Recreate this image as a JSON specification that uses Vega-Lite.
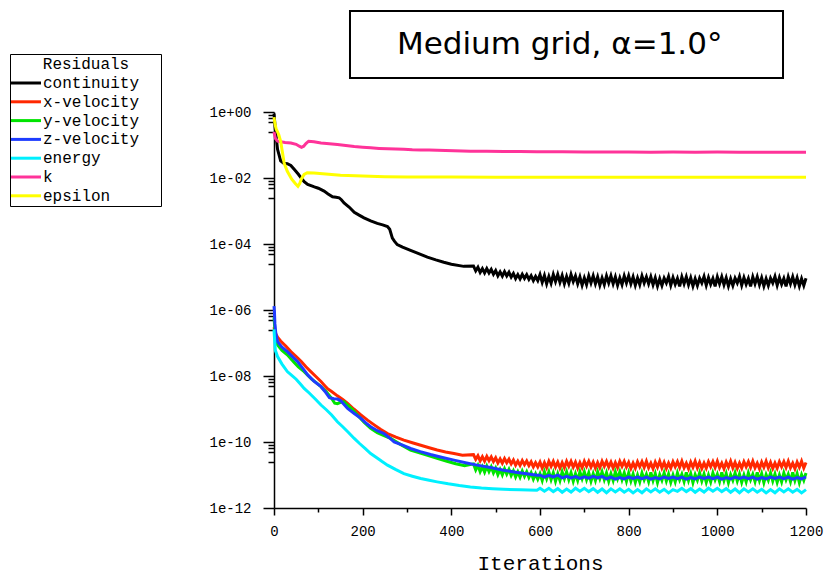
{
  "$schema": "https://vega.github.io/schema/vega-lite/v6.json",
  "width": 532,
  "height": 396,
  "autosize": {"type": "none"},
  "padding": {"left": 274, "top": 112, "right": 19, "bottom": 66},
  "background": "white",
  "config": {"view": {"stroke": null}},
  "layer": [
    {
      "data": {"values": [
        {"s":"continuity","i":0,"v":0.9},{"s":"continuity","i":3,"v":0.3},{"s":"continuity","i":8,"v":0.074},{"s":"continuity","i":15,"v":0.033},{"s":"continuity","i":22,"v":0.028},{"s":"continuity","i":30,"v":0.027},{"s":"continuity","i":38,"v":0.024},{"s":"continuity","i":46,"v":0.018},{"s":"continuity","i":55,"v":0.013},{"s":"continuity","i":61,"v":0.0101},{"s":"continuity","i":68,"v":0.0078},{"s":"continuity","i":76,"v":0.0064},{"s":"continuity","i":85,"v":0.0058},{"s":"continuity","i":91,"v":0.0054},{"s":"continuity","i":100,"v":0.0049},{"s":"continuity","i":113,"v":0.004},{"s":"continuity","i":122,"v":0.0033},{"s":"continuity","i":132,"v":0.0027},{"s":"continuity","i":140,"v":0.0026},{"s":"continuity","i":147,"v":0.0025},{"s":"continuity","i":152,"v":0.0022},{"s":"continuity","i":158,"v":0.00176},{"s":"continuity","i":170,"v":0.0013},{"s":"continuity","i":181,"v":0.00092},{"s":"continuity","i":192,"v":0.00075},{"s":"continuity","i":203,"v":0.00062},{"s":"continuity","i":218,"v":0.0005},{"s":"continuity","i":233,"v":0.00042},{"s":"continuity","i":245,"v":0.00038},{"s":"continuity","i":256,"v":0.00034},{"s":"continuity","i":261,"v":0.00028},{"s":"continuity","i":267,"v":0.00015},{"s":"continuity","i":272,"v":0.00012},{"s":"continuity","i":278,"v":0.000096},{"s":"continuity","i":290,"v":0.00008},{"s":"continuity","i":308,"v":0.000064},{"s":"continuity","i":325,"v":0.000052},{"s":"continuity","i":346,"v":0.00004},{"s":"continuity","i":365,"v":0.000033},{"s":"continuity","i":383,"v":0.000028},{"s":"continuity","i":400,"v":0.0000245},{"s":"continuity","i":428,"v":0.000021},
        {"s":"continuity","i":450,"v":2.16e-5},{"s":"continuity","i":455,"v":1.54e-5},{"s":"continuity","i":460,"v":1.97e-5},{"s":"continuity","i":465,"v":1.37e-5},{"s":"continuity","i":470,"v":1.79e-5},{"s":"continuity","i":475,"v":1.32e-5},{"s":"continuity","i":480,"v":1.8e-5},{"s":"continuity","i":485,"v":1.33e-5},{"s":"continuity","i":490,"v":1.7e-5},{"s":"continuity","i":495,"v":1.21e-5},{"s":"continuity","i":500,"v":1.57e-5},{"s":"continuity","i":505,"v":1.09e-5},{"s":"continuity","i":510,"v":1.43e-5},{"s":"continuity","i":515,"v":1.06e-5},{"s":"continuity","i":520,"v":1.46e-5},{"s":"continuity","i":525,"v":1.08e-5},{"s":"continuity","i":530,"v":1.39e-5},{"s":"continuity","i":535,"v":9.9e-6},{"s":"continuity","i":540,"v":1.28e-5},{"s":"continuity","i":545,"v":8.9e-6},{"s":"continuity","i":550,"v":1.18e-5},{"s":"continuity","i":555,"v":8.8e-6},{"s":"continuity","i":560,"v":1.21e-5},{"s":"continuity","i":565,"v":9.1e-6},{"s":"continuity","i":570,"v":1.18e-5},{"s":"continuity","i":575,"v":8.5e-6},{"s":"continuity","i":580,"v":1.1e-5},{"s":"continuity","i":585,"v":7.8e-6},{"s":"continuity","i":590,"v":1.04e-5},{"s":"continuity","i":595,"v":7.8e-6},
        {"s":"continuity","i":600,"v":1.19e-5},{"s":"continuity","i":605,"v":6.9e-6},{"s":"continuity","i":610,"v":1.11e-5},{"s":"continuity","i":615,"v":6.2e-6},{"s":"continuity","i":620,"v":1.04e-5},{"s":"continuity","i":625,"v":6.5e-6},{"s":"continuity","i":630,"v":1.19e-5},{"s":"continuity","i":635,"v":7.3e-6},
        {"s":"continuity","i":640,"v":1.19e-5},{"s":"continuity","i":645,"v":6.9e-6},{"s":"continuity","i":650,"v":1.11e-5},{"s":"continuity","i":655,"v":6.2e-6},{"s":"continuity","i":660,"v":1.04e-5},{"s":"continuity","i":665,"v":6.5e-6},{"s":"continuity","i":670,"v":1.19e-5},{"s":"continuity","i":675,"v":7.3e-6},
        {"s":"continuity","i":680,"v":1.08e-5},{"s":"continuity","i":685,"v":6.2e-6},{"s":"continuity","i":690,"v":1.01e-5},{"s":"continuity","i":695,"v":5.6e-6},{"s":"continuity","i":700,"v":9.4e-6},{"s":"continuity","i":705,"v":5.9e-6},{"s":"continuity","i":710,"v":1.08e-5},{"s":"continuity","i":715,"v":6.6e-6},
        {"s":"continuity","i":720,"v":1.08e-5},{"s":"continuity","i":725,"v":6.2e-6},{"s":"continuity","i":730,"v":1.01e-5},{"s":"continuity","i":735,"v":5.6e-6},{"s":"continuity","i":740,"v":9.4e-6},{"s":"continuity","i":745,"v":5.9e-6},{"s":"continuity","i":750,"v":1.08e-5},{"s":"continuity","i":755,"v":6.6e-6},
        {"s":"continuity","i":760,"v":1.08e-5},{"s":"continuity","i":765,"v":6.2e-6},{"s":"continuity","i":770,"v":1.01e-5},{"s":"continuity","i":775,"v":5.6e-6},{"s":"continuity","i":780,"v":9.4e-6},{"s":"continuity","i":785,"v":5.9e-6},{"s":"continuity","i":790,"v":1.08e-5},{"s":"continuity","i":795,"v":6.6e-6},
        {"s":"continuity","i":800,"v":1.08e-5},{"s":"continuity","i":805,"v":6.2e-6},{"s":"continuity","i":810,"v":1.01e-5},{"s":"continuity","i":815,"v":5.6e-6},{"s":"continuity","i":820,"v":9.4e-6},{"s":"continuity","i":825,"v":5.9e-6},{"s":"continuity","i":830,"v":1.08e-5},{"s":"continuity","i":835,"v":6.6e-6},
        {"s":"continuity","i":840,"v":1.01e-5},{"s":"continuity","i":845,"v":6.2e-6},{"s":"continuity","i":850,"v":1.01e-5},{"s":"continuity","i":855,"v":5.8e-6},{"s":"continuity","i":860,"v":9.4e-6},{"s":"continuity","i":865,"v":5.3e-6},{"s":"continuity","i":870,"v":8.8e-6},{"s":"continuity","i":875,"v":5.5e-6},
        {"s":"continuity","i":880,"v":9.2e-6},{"s":"continuity","i":885,"v":6.6e-6},{"s":"continuity","i":890,"v":1.04e-5},{"s":"continuity","i":895,"v":5.6e-6},{"s":"continuity","i":900,"v":9.6e-6},{"s":"continuity","i":905,"v":6e-6},{"s":"continuity","i":910,"v":9e-6},{"s":"continuity","i":915,"v":5.2e-6},
        {"s":"continuity","i":920,"v":1.01e-5},{"s":"continuity","i":925,"v":6.2e-6},{"s":"continuity","i":930,"v":1.01e-5},{"s":"continuity","i":935,"v":5.8e-6},{"s":"continuity","i":940,"v":9.4e-6},{"s":"continuity","i":945,"v":5.3e-6},{"s":"continuity","i":950,"v":8.8e-6},{"s":"continuity","i":955,"v":5.5e-6},
        {"s":"continuity","i":960,"v":9.2e-6},{"s":"continuity","i":965,"v":6.6e-6},{"s":"continuity","i":970,"v":1.04e-5},{"s":"continuity","i":975,"v":5.6e-6},{"s":"continuity","i":980,"v":9.6e-6},{"s":"continuity","i":985,"v":6e-6},{"s":"continuity","i":990,"v":9e-6},{"s":"continuity","i":995,"v":5.2e-6},
        {"s":"continuity","i":1000,"v":1.01e-5},{"s":"continuity","i":1005,"v":6.2e-6},{"s":"continuity","i":1010,"v":1.01e-5},{"s":"continuity","i":1015,"v":5.8e-6},{"s":"continuity","i":1020,"v":9.4e-6},{"s":"continuity","i":1025,"v":5.3e-6},{"s":"continuity","i":1030,"v":8.8e-6},{"s":"continuity","i":1035,"v":5.5e-6},
        {"s":"continuity","i":1040,"v":9.2e-6},{"s":"continuity","i":1045,"v":6.6e-6},{"s":"continuity","i":1050,"v":1.04e-5},{"s":"continuity","i":1055,"v":5.6e-6},{"s":"continuity","i":1060,"v":9.6e-6},{"s":"continuity","i":1065,"v":6e-6},{"s":"continuity","i":1070,"v":9e-6},{"s":"continuity","i":1075,"v":5.2e-6},
        {"s":"continuity","i":1080,"v":1.01e-5},{"s":"continuity","i":1085,"v":6.2e-6},{"s":"continuity","i":1090,"v":1.01e-5},{"s":"continuity","i":1095,"v":5.8e-6},{"s":"continuity","i":1100,"v":9.4e-6},{"s":"continuity","i":1105,"v":5.3e-6},{"s":"continuity","i":1110,"v":8.8e-6},{"s":"continuity","i":1115,"v":5.5e-6},
        {"s":"continuity","i":1120,"v":9.2e-6},{"s":"continuity","i":1125,"v":6.6e-6},{"s":"continuity","i":1130,"v":1.04e-5},{"s":"continuity","i":1135,"v":5.6e-6},{"s":"continuity","i":1140,"v":9.6e-6},{"s":"continuity","i":1145,"v":6e-6},{"s":"continuity","i":1150,"v":9e-6},{"s":"continuity","i":1155,"v":5.2e-6},
        {"s":"continuity","i":1160,"v":1.01e-5},{"s":"continuity","i":1165,"v":6.2e-6},{"s":"continuity","i":1170,"v":1.01e-5},{"s":"continuity","i":1175,"v":5.8e-6},{"s":"continuity","i":1180,"v":9.4e-6},{"s":"continuity","i":1185,"v":5.3e-6},{"s":"continuity","i":1190,"v":8.8e-6},{"s":"continuity","i":1195,"v":5.5e-6},{"s":"continuity","i":1200,"v":9.2e-6},

        {"s":"x-velocity","i":0,"v":3e-7},{"s":"x-velocity","i":3,"v":2e-7},{"s":"x-velocity","i":8,"v":1.5e-7},{"s":"x-velocity","i":15,"v":1.15e-7},{"s":"x-velocity","i":27,"v":8e-8},{"s":"x-velocity","i":38,"v":5.5e-8},{"s":"x-velocity","i":50,"v":3.9e-8},{"s":"x-velocity","i":61,"v":2.8e-8},{"s":"x-velocity","i":72,"v":1.9e-8},{"s":"x-velocity","i":83,"v":1.36e-8},{"s":"x-velocity","i":95,"v":9.5e-9},{"s":"x-velocity","i":106,"v":6.8e-9},{"s":"x-velocity","i":115,"v":5e-9},{"s":"x-velocity","i":121,"v":4.1e-9},{"s":"x-velocity","i":130,"v":3.4e-9},{"s":"x-velocity","i":143,"v":2.5e-9},{"s":"x-velocity","i":155,"v":1.95e-9},{"s":"x-velocity","i":166,"v":1.48e-9},{"s":"x-velocity","i":180,"v":1e-9},{"s":"x-velocity","i":196,"v":6.6e-10},{"s":"x-velocity","i":211,"v":4.6e-10},{"s":"x-velocity","i":226,"v":3.3e-10},{"s":"x-velocity","i":241,"v":2.4e-10},{"s":"x-velocity","i":256,"v":1.8e-10},{"s":"x-velocity","i":275,"v":1.4e-10},{"s":"x-velocity","i":293,"v":1.14e-10},{"s":"x-velocity","i":312,"v":9.5e-11},{"s":"x-velocity","i":331,"v":8e-11},{"s":"x-velocity","i":350,"v":6.7e-11},{"s":"x-velocity","i":368,"v":5.7e-11},{"s":"x-velocity","i":387,"v":5e-11},{"s":"x-velocity","i":406,"v":4.5e-11},{"s":"x-velocity","i":425,"v":4e-11},
        {"s":"x-velocity","i":450,"v":4.14e-11},{"s":"x-velocity","i":455,"v":2.97e-11},{"s":"x-velocity","i":460,"v":3.83e-11},{"s":"x-velocity","i":465,"v":2.69e-11},{"s":"x-velocity","i":470,"v":3.56e-11},{"s":"x-velocity","i":475,"v":2.64e-11},{"s":"x-velocity","i":480,"v":3.66e-11},{"s":"x-velocity","i":485,"v":2.73e-11},{"s":"x-velocity","i":490,"v":3.54e-11},{"s":"x-velocity","i":495,"v":2.55e-11},{"s":"x-velocity","i":500,"v":3.31e-11},{"s":"x-velocity","i":505,"v":2.32e-11},{"s":"x-velocity","i":510,"v":3.06e-11},{"s":"x-velocity","i":515,"v":2.27e-11},{"s":"x-velocity","i":520,"v":3.14e-11},{"s":"x-velocity","i":525,"v":2.34e-11},{"s":"x-velocity","i":530,"v":3.02e-11},{"s":"x-velocity","i":535,"v":2.17e-11},{"s":"x-velocity","i":540,"v":2.82e-11},{"s":"x-velocity","i":545,"v":1.98e-11},{"s":"x-velocity","i":550,"v":2.63e-11},{"s":"x-velocity","i":555,"v":1.96e-11},{"s":"x-velocity","i":560,"v":2.74e-11},{"s":"x-velocity","i":565,"v":2.05e-11},{"s":"x-velocity","i":570,"v":2.66e-11},{"s":"x-velocity","i":575,"v":1.93e-11},{"s":"x-velocity","i":580,"v":2.51e-11},{"s":"x-velocity","i":585,"v":1.77e-11},{"s":"x-velocity","i":590,"v":2.35e-11},{"s":"x-velocity","i":595,"v":1.77e-11},
        {"s":"x-velocity","i":600,"v":2.46e-11},{"s":"x-velocity","i":605,"v":1.62e-11},{"s":"x-velocity","i":610,"v":2.36e-11},{"s":"x-velocity","i":615,"v":1.66e-11},{"s":"x-velocity","i":620,"v":2.58e-11},{"s":"x-velocity","i":625,"v":1.82e-11},{"s":"x-velocity","i":630,"v":2.58e-11},{"s":"x-velocity","i":635,"v":1.74e-11},
        {"s":"x-velocity","i":640,"v":2.46e-11},{"s":"x-velocity","i":645,"v":1.62e-11},{"s":"x-velocity","i":650,"v":2.36e-11},{"s":"x-velocity","i":655,"v":1.66e-11},{"s":"x-velocity","i":660,"v":2.58e-11},{"s":"x-velocity","i":665,"v":1.82e-11},{"s":"x-velocity","i":670,"v":2.58e-11},{"s":"x-velocity","i":675,"v":1.74e-11},
        {"s":"x-velocity","i":680,"v":2.46e-11},{"s":"x-velocity","i":685,"v":1.62e-11},{"s":"x-velocity","i":690,"v":2.36e-11},{"s":"x-velocity","i":695,"v":1.66e-11},{"s":"x-velocity","i":700,"v":2.58e-11},{"s":"x-velocity","i":705,"v":1.82e-11},{"s":"x-velocity","i":710,"v":2.58e-11},{"s":"x-velocity","i":715,"v":1.74e-11},
        {"s":"x-velocity","i":720,"v":2.46e-11},{"s":"x-velocity","i":725,"v":1.62e-11},{"s":"x-velocity","i":730,"v":2.36e-11},{"s":"x-velocity","i":735,"v":1.66e-11},{"s":"x-velocity","i":740,"v":2.58e-11},{"s":"x-velocity","i":745,"v":1.82e-11},{"s":"x-velocity","i":750,"v":2.58e-11},{"s":"x-velocity","i":755,"v":1.74e-11},
        {"s":"x-velocity","i":760,"v":2.46e-11},{"s":"x-velocity","i":765,"v":1.62e-11},{"s":"x-velocity","i":770,"v":2.36e-11},{"s":"x-velocity","i":775,"v":1.66e-11},{"s":"x-velocity","i":780,"v":2.58e-11},{"s":"x-velocity","i":785,"v":1.82e-11},{"s":"x-velocity","i":790,"v":2.58e-11},{"s":"x-velocity","i":795,"v":1.74e-11},
        {"s":"x-velocity","i":800,"v":2.4e-11},{"s":"x-velocity","i":805,"v":1.58e-11},{"s":"x-velocity","i":810,"v":2.3e-11},{"s":"x-velocity","i":815,"v":1.62e-11},{"s":"x-velocity","i":820,"v":2.52e-11},{"s":"x-velocity","i":825,"v":1.78e-11},{"s":"x-velocity","i":830,"v":2.52e-11},{"s":"x-velocity","i":835,"v":1.7e-11},
        {"s":"x-velocity","i":840,"v":2.6e-11},{"s":"x-velocity","i":845,"v":1.66e-11},{"s":"x-velocity","i":850,"v":2.28e-11},{"s":"x-velocity","i":855,"v":1.56e-11},{"s":"x-velocity","i":860,"v":2.45e-11},{"s":"x-velocity","i":865,"v":1.72e-11},{"s":"x-velocity","i":870,"v":2.62e-11},{"s":"x-velocity","i":875,"v":1.64e-11},
        {"s":"x-velocity","i":880,"v":2.4e-11},{"s":"x-velocity","i":885,"v":1.58e-11},{"s":"x-velocity","i":890,"v":2.3e-11},{"s":"x-velocity","i":895,"v":1.62e-11},{"s":"x-velocity","i":900,"v":2.52e-11},{"s":"x-velocity","i":905,"v":1.78e-11},{"s":"x-velocity","i":910,"v":2.52e-11},{"s":"x-velocity","i":915,"v":1.7e-11},
        {"s":"x-velocity","i":920,"v":2.6e-11},{"s":"x-velocity","i":925,"v":1.66e-11},{"s":"x-velocity","i":930,"v":2.28e-11},{"s":"x-velocity","i":935,"v":1.56e-11},{"s":"x-velocity","i":940,"v":2.45e-11},{"s":"x-velocity","i":945,"v":1.72e-11},{"s":"x-velocity","i":950,"v":2.62e-11},{"s":"x-velocity","i":955,"v":1.64e-11},
        {"s":"x-velocity","i":960,"v":2.4e-11},{"s":"x-velocity","i":965,"v":1.58e-11},{"s":"x-velocity","i":970,"v":2.3e-11},{"s":"x-velocity","i":975,"v":1.62e-11},{"s":"x-velocity","i":980,"v":2.52e-11},{"s":"x-velocity","i":985,"v":1.78e-11},{"s":"x-velocity","i":990,"v":2.52e-11},{"s":"x-velocity","i":995,"v":1.7e-11},
        {"s":"x-velocity","i":1000,"v":2.6e-11},{"s":"x-velocity","i":1005,"v":1.66e-11},{"s":"x-velocity","i":1010,"v":2.28e-11},{"s":"x-velocity","i":1015,"v":1.56e-11},{"s":"x-velocity","i":1020,"v":2.45e-11},{"s":"x-velocity","i":1025,"v":1.72e-11},{"s":"x-velocity","i":1030,"v":2.62e-11},{"s":"x-velocity","i":1035,"v":1.64e-11},
        {"s":"x-velocity","i":1040,"v":2.4e-11},{"s":"x-velocity","i":1045,"v":1.58e-11},{"s":"x-velocity","i":1050,"v":2.3e-11},{"s":"x-velocity","i":1055,"v":1.62e-11},{"s":"x-velocity","i":1060,"v":2.52e-11},{"s":"x-velocity","i":1065,"v":1.78e-11},{"s":"x-velocity","i":1070,"v":2.52e-11},{"s":"x-velocity","i":1075,"v":1.7e-11},
        {"s":"x-velocity","i":1080,"v":2.6e-11},{"s":"x-velocity","i":1085,"v":1.66e-11},{"s":"x-velocity","i":1090,"v":2.28e-11},{"s":"x-velocity","i":1095,"v":1.56e-11},{"s":"x-velocity","i":1100,"v":2.45e-11},{"s":"x-velocity","i":1105,"v":1.72e-11},{"s":"x-velocity","i":1110,"v":2.62e-11},{"s":"x-velocity","i":1115,"v":1.64e-11},
        {"s":"x-velocity","i":1120,"v":2.4e-11},{"s":"x-velocity","i":1125,"v":1.58e-11},{"s":"x-velocity","i":1130,"v":2.3e-11},{"s":"x-velocity","i":1135,"v":1.62e-11},{"s":"x-velocity","i":1140,"v":2.52e-11},{"s":"x-velocity","i":1145,"v":1.78e-11},{"s":"x-velocity","i":1150,"v":2.52e-11},{"s":"x-velocity","i":1155,"v":1.7e-11},
        {"s":"x-velocity","i":1160,"v":2.6e-11},{"s":"x-velocity","i":1165,"v":1.66e-11},{"s":"x-velocity","i":1170,"v":2.28e-11},{"s":"x-velocity","i":1175,"v":1.56e-11},{"s":"x-velocity","i":1180,"v":2.45e-11},{"s":"x-velocity","i":1185,"v":1.72e-11},{"s":"x-velocity","i":1190,"v":2.62e-11},{"s":"x-velocity","i":1195,"v":1.64e-11},{"s":"x-velocity","i":1200,"v":2.4e-11},

        {"s":"y-velocity","i":0,"v":6e-7},{"s":"y-velocity","i":2,"v":2.5e-7},{"s":"y-velocity","i":4,"v":1.5e-7},{"s":"y-velocity","i":8,"v":8.8e-8},{"s":"y-velocity","i":18,"v":6e-8},{"s":"y-velocity","i":30,"v":4.4e-8},{"s":"y-velocity","i":45,"v":2.6e-8},{"s":"y-velocity","i":55,"v":1.9e-8},{"s":"y-velocity","i":68,"v":1.36e-8},{"s":"y-velocity","i":85,"v":8e-9},{"s":"y-velocity","i":95,"v":6.3e-9},{"s":"y-velocity","i":106,"v":4.75e-9},{"s":"y-velocity","i":118,"v":3.3e-9},{"s":"y-velocity","i":130,"v":2.1e-9},{"s":"y-velocity","i":137,"v":1.5e-9},{"s":"y-velocity","i":143,"v":1.45e-9},{"s":"y-velocity","i":150,"v":1.6e-9},{"s":"y-velocity","i":158,"v":1.66e-9},{"s":"y-velocity","i":166,"v":1.3e-9},{"s":"y-velocity","i":176,"v":1e-9},{"s":"y-velocity","i":188,"v":6.6e-10},{"s":"y-velocity","i":203,"v":4e-10},{"s":"y-velocity","i":218,"v":2.6e-10},{"s":"y-velocity","i":233,"v":1.9e-10},{"s":"y-velocity","i":248,"v":1.55e-10},{"s":"y-velocity","i":263,"v":1.28e-10},{"s":"y-velocity","i":285,"v":8.5e-11},{"s":"y-velocity","i":308,"v":5.7e-11},{"s":"y-velocity","i":330,"v":4.6e-11},{"s":"y-velocity","i":350,"v":3.8e-11},{"s":"y-velocity","i":368,"v":3.2e-11},{"s":"y-velocity","i":390,"v":2.6e-11},{"s":"y-velocity","i":410,"v":2.2e-11},{"s":"y-velocity","i":430,"v":1.9e-11},
        {"s":"y-velocity","i":450,"v":2.17e-11},{"s":"y-velocity","i":455,"v":1.42e-11},{"s":"y-velocity","i":460,"v":1.96e-11},{"s":"y-velocity","i":465,"v":1.26e-11},{"s":"y-velocity","i":470,"v":1.78e-11},{"s":"y-velocity","i":475,"v":1.22e-11},{"s":"y-velocity","i":480,"v":1.85e-11},{"s":"y-velocity","i":485,"v":1.27e-11},{"s":"y-velocity","i":490,"v":1.76e-11},{"s":"y-velocity","i":495,"v":1.16e-11},{"s":"y-velocity","i":500,"v":1.61e-11},{"s":"y-velocity","i":505,"v":1.03e-11},{"s":"y-velocity","i":510,"v":1.47e-11},{"s":"y-velocity","i":515,"v":1.01e-11},{"s":"y-velocity","i":520,"v":1.54e-11},{"s":"y-velocity","i":525,"v":1.06e-11},{"s":"y-velocity","i":530,"v":1.47e-11},{"s":"y-velocity","i":535,"v":9.7e-12},{"s":"y-velocity","i":540,"v":1.34e-11},{"s":"y-velocity","i":545,"v":8.7e-12},{"s":"y-velocity","i":550,"v":1.24e-11},{"s":"y-velocity","i":555,"v":8.6e-12},{"s":"y-velocity","i":560,"v":1.31e-11},{"s":"y-velocity","i":565,"v":9.1e-12},{"s":"y-velocity","i":570,"v":1.26e-11},{"s":"y-velocity","i":575,"v":8.4e-12},{"s":"y-velocity","i":580,"v":1.16e-11},{"s":"y-velocity","i":585,"v":7.5e-12},{"s":"y-velocity","i":590,"v":1.08e-11},{"s":"y-velocity","i":595,"v":7.5e-12},
        {"s":"y-velocity","i":600,"v":1.09e-11},{"s":"y-velocity","i":605,"v":6.8e-12},{"s":"y-velocity","i":610,"v":1.24e-11},{"s":"y-velocity","i":615,"v":7.7e-12},{"s":"y-velocity","i":620,"v":1.24e-11},{"s":"y-velocity","i":625,"v":7.2e-12},{"s":"y-velocity","i":630,"v":1.16e-11},{"s":"y-velocity","i":635,"v":6.5e-12},
        {"s":"y-velocity","i":640,"v":1.09e-11},{"s":"y-velocity","i":645,"v":6.8e-12},{"s":"y-velocity","i":650,"v":1.24e-11},{"s":"y-velocity","i":655,"v":7.7e-12},{"s":"y-velocity","i":660,"v":1.24e-11},{"s":"y-velocity","i":665,"v":7.2e-12},{"s":"y-velocity","i":670,"v":1.16e-11},{"s":"y-velocity","i":675,"v":6.5e-12},
        {"s":"y-velocity","i":680,"v":1.09e-11},{"s":"y-velocity","i":685,"v":6.8e-12},{"s":"y-velocity","i":690,"v":1.24e-11},{"s":"y-velocity","i":695,"v":7.7e-12},{"s":"y-velocity","i":700,"v":1.24e-11},{"s":"y-velocity","i":705,"v":7.2e-12},{"s":"y-velocity","i":710,"v":1.16e-11},{"s":"y-velocity","i":715,"v":6.5e-12},
        {"s":"y-velocity","i":720,"v":1.09e-11},{"s":"y-velocity","i":725,"v":6.8e-12},{"s":"y-velocity","i":730,"v":1.24e-11},{"s":"y-velocity","i":735,"v":7.7e-12},{"s":"y-velocity","i":740,"v":1.24e-11},{"s":"y-velocity","i":745,"v":7.2e-12},{"s":"y-velocity","i":750,"v":1.16e-11},{"s":"y-velocity","i":755,"v":6.5e-12},
        {"s":"y-velocity","i":760,"v":1.09e-11},{"s":"y-velocity","i":765,"v":6.8e-12},{"s":"y-velocity","i":770,"v":1.24e-11},{"s":"y-velocity","i":775,"v":7.7e-12},{"s":"y-velocity","i":780,"v":1.24e-11},{"s":"y-velocity","i":785,"v":7.2e-12},{"s":"y-velocity","i":790,"v":1.16e-11},{"s":"y-velocity","i":795,"v":6.5e-12},
        {"s":"y-velocity","i":800,"v":1.15e-11},{"s":"y-velocity","i":805,"v":6.6e-12},{"s":"y-velocity","i":810,"v":1.07e-11},{"s":"y-velocity","i":815,"v":6e-12},{"s":"y-velocity","i":820,"v":1e-11},{"s":"y-velocity","i":825,"v":6.2e-12},{"s":"y-velocity","i":830,"v":1.15e-11},{"s":"y-velocity","i":835,"v":7.1e-12},
        {"s":"y-velocity","i":840,"v":1.05e-11},{"s":"y-velocity","i":845,"v":6.3e-12},{"s":"y-velocity","i":850,"v":1.2e-11},{"s":"y-velocity","i":855,"v":6.8e-12},{"s":"y-velocity","i":860,"v":1.1e-11},{"s":"y-velocity","i":865,"v":5.9e-12},{"s":"y-velocity","i":870,"v":1.02e-11},{"s":"y-velocity","i":875,"v":6.9e-12},
        {"s":"y-velocity","i":880,"v":1.15e-11},{"s":"y-velocity","i":885,"v":6.6e-12},{"s":"y-velocity","i":890,"v":1.07e-11},{"s":"y-velocity","i":895,"v":6e-12},{"s":"y-velocity","i":900,"v":1e-11},{"s":"y-velocity","i":905,"v":6.2e-12},{"s":"y-velocity","i":910,"v":1.15e-11},{"s":"y-velocity","i":915,"v":7.1e-12},
        {"s":"y-velocity","i":920,"v":1.05e-11},{"s":"y-velocity","i":925,"v":6.3e-12},{"s":"y-velocity","i":930,"v":1.2e-11},{"s":"y-velocity","i":935,"v":6.8e-12},{"s":"y-velocity","i":940,"v":1.1e-11},{"s":"y-velocity","i":945,"v":5.9e-12},{"s":"y-velocity","i":950,"v":1.02e-11},{"s":"y-velocity","i":955,"v":6.9e-12},
        {"s":"y-velocity","i":960,"v":1.15e-11},{"s":"y-velocity","i":965,"v":6.6e-12},{"s":"y-velocity","i":970,"v":1.07e-11},{"s":"y-velocity","i":975,"v":6e-12},{"s":"y-velocity","i":980,"v":1e-11},{"s":"y-velocity","i":985,"v":6.2e-12},{"s":"y-velocity","i":990,"v":1.15e-11},{"s":"y-velocity","i":995,"v":7.1e-12},
        {"s":"y-velocity","i":1000,"v":1.05e-11},{"s":"y-velocity","i":1005,"v":6.3e-12},{"s":"y-velocity","i":1010,"v":1.2e-11},{"s":"y-velocity","i":1015,"v":6.8e-12},{"s":"y-velocity","i":1020,"v":1.1e-11},{"s":"y-velocity","i":1025,"v":5.9e-12},{"s":"y-velocity","i":1030,"v":1.02e-11},{"s":"y-velocity","i":1035,"v":6.9e-12},
        {"s":"y-velocity","i":1040,"v":1.15e-11},{"s":"y-velocity","i":1045,"v":6.6e-12},{"s":"y-velocity","i":1050,"v":1.07e-11},{"s":"y-velocity","i":1055,"v":6e-12},{"s":"y-velocity","i":1060,"v":1e-11},{"s":"y-velocity","i":1065,"v":6.2e-12},{"s":"y-velocity","i":1070,"v":1.15e-11},{"s":"y-velocity","i":1075,"v":7.1e-12},
        {"s":"y-velocity","i":1080,"v":1.05e-11},{"s":"y-velocity","i":1085,"v":6.3e-12},{"s":"y-velocity","i":1090,"v":1.2e-11},{"s":"y-velocity","i":1095,"v":6.8e-12},{"s":"y-velocity","i":1100,"v":1.1e-11},{"s":"y-velocity","i":1105,"v":5.9e-12},{"s":"y-velocity","i":1110,"v":1.02e-11},{"s":"y-velocity","i":1115,"v":6.9e-12},
        {"s":"y-velocity","i":1120,"v":1.15e-11},{"s":"y-velocity","i":1125,"v":6.6e-12},{"s":"y-velocity","i":1130,"v":1.07e-11},{"s":"y-velocity","i":1135,"v":6e-12},{"s":"y-velocity","i":1140,"v":1e-11},{"s":"y-velocity","i":1145,"v":6.2e-12},{"s":"y-velocity","i":1150,"v":1.15e-11},{"s":"y-velocity","i":1155,"v":7.1e-12},
        {"s":"y-velocity","i":1160,"v":1.05e-11},{"s":"y-velocity","i":1165,"v":6.3e-12},{"s":"y-velocity","i":1170,"v":1.2e-11},{"s":"y-velocity","i":1175,"v":6.8e-12},{"s":"y-velocity","i":1180,"v":1.1e-11},{"s":"y-velocity","i":1185,"v":5.9e-12},{"s":"y-velocity","i":1190,"v":1.02e-11},{"s":"y-velocity","i":1195,"v":6.9e-12},{"s":"y-velocity","i":1200,"v":1.15e-11},

        {"s":"z-velocity","i":0,"v":1.3e-6},{"s":"z-velocity","i":1,"v":9e-7},{"s":"z-velocity","i":2,"v":4e-7},{"s":"z-velocity","i":4,"v":2e-7},{"s":"z-velocity","i":8,"v":1.1e-7},{"s":"z-velocity","i":18,"v":7.5e-8},{"s":"z-velocity","i":30,"v":5.5e-8},{"s":"z-velocity","i":42,"v":3.8e-8},{"s":"z-velocity","i":53,"v":2.73e-8},{"s":"z-velocity","i":65,"v":1.7e-8},{"s":"z-velocity","i":76,"v":1.08e-8},{"s":"z-velocity","i":90,"v":7e-9},{"s":"z-velocity","i":106,"v":4.75e-9},{"s":"z-velocity","i":115,"v":3.4e-9},{"s":"z-velocity","i":125,"v":2.2e-9},{"s":"z-velocity","i":135,"v":2.05e-9},{"s":"z-velocity","i":143,"v":2e-9},{"s":"z-velocity","i":150,"v":1.8e-9},{"s":"z-velocity","i":166,"v":1.04e-9},{"s":"z-velocity","i":181,"v":7.3e-10},{"s":"z-velocity","i":196,"v":5.2e-10},{"s":"z-velocity","i":207,"v":3.8e-10},{"s":"z-velocity","i":218,"v":2.9e-10},{"s":"z-velocity","i":233,"v":2.2e-10},{"s":"z-velocity","i":248,"v":1.81e-10},{"s":"z-velocity","i":260,"v":1.35e-10},{"s":"z-velocity","i":271,"v":1.01e-10},{"s":"z-velocity","i":290,"v":8e-11},{"s":"z-velocity","i":308,"v":6.35e-11},{"s":"z-velocity","i":330,"v":5.1e-11},{"s":"z-velocity","i":353,"v":4.17e-11},{"s":"z-velocity","i":380,"v":3.4e-11},{"s":"z-velocity","i":406,"v":2.82e-11},{"s":"z-velocity","i":432,"v":2.35e-11},{"s":"z-velocity","i":458,"v":1.99e-11},{"s":"z-velocity","i":488,"v":1.68e-11},{"s":"z-velocity","i":518,"v":1.4e-11},{"s":"z-velocity","i":545,"v":1.22e-11},{"s":"z-velocity","i":570,"v":1.09e-11},{"s":"z-velocity","i":593,"v":9.9e-12},
        {"s":"z-velocity","i":600,"v":9.9e-12},{"s":"z-velocity","i":610,"v":8.6e-12},{"s":"z-velocity","i":620,"v":9.7e-12},{"s":"z-velocity","i":630,"v":8.7e-12},{"s":"z-velocity","i":640,"v":9.95e-12},{"s":"z-velocity","i":650,"v":8.2e-12},{"s":"z-velocity","i":660,"v":9.1e-12},{"s":"z-velocity","i":670,"v":8.1e-12},{"s":"z-velocity","i":680,"v":9e-12},{"s":"z-velocity","i":690,"v":7.9e-12},{"s":"z-velocity","i":700,"v":8.8e-12},{"s":"z-velocity","i":710,"v":8e-12},{"s":"z-velocity","i":720,"v":9.1e-12},{"s":"z-velocity","i":730,"v":8.2e-12},{"s":"z-velocity","i":740,"v":9.1e-12},{"s":"z-velocity","i":750,"v":7.7e-12},{"s":"z-velocity","i":760,"v":8.6e-12},{"s":"z-velocity","i":770,"v":7.5e-12},{"s":"z-velocity","i":780,"v":8.4e-12},{"s":"z-velocity","i":790,"v":7.6e-12},{"s":"z-velocity","i":800,"v":8.7e-12},{"s":"z-velocity","i":810,"v":7.9e-12},{"s":"z-velocity","i":820,"v":8.7e-12},{"s":"z-velocity","i":830,"v":7.7e-12},{"s":"z-velocity","i":840,"v":8.6e-12},{"s":"z-velocity","i":850,"v":7.5e-12},{"s":"z-velocity","i":860,"v":8.4e-12},{"s":"z-velocity","i":870,"v":7.6e-12},{"s":"z-velocity","i":880,"v":8.7e-12},{"s":"z-velocity","i":890,"v":7.9e-12},{"s":"z-velocity","i":900,"v":8.7e-12},
        {"s":"z-velocity","i":910,"v":7.7e-12},{"s":"z-velocity","i":920,"v":8.6e-12},{"s":"z-velocity","i":930,"v":7.5e-12},{"s":"z-velocity","i":940,"v":8.4e-12},{"s":"z-velocity","i":950,"v":7.6e-12},{"s":"z-velocity","i":960,"v":8.7e-12},{"s":"z-velocity","i":970,"v":7.9e-12},{"s":"z-velocity","i":980,"v":8.7e-12},{"s":"z-velocity","i":990,"v":7.7e-12},{"s":"z-velocity","i":1000,"v":8.6e-12},{"s":"z-velocity","i":1010,"v":7.5e-12},{"s":"z-velocity","i":1020,"v":8.4e-12},{"s":"z-velocity","i":1030,"v":7.6e-12},{"s":"z-velocity","i":1040,"v":8.7e-12},{"s":"z-velocity","i":1050,"v":7.9e-12},{"s":"z-velocity","i":1060,"v":8.7e-12},{"s":"z-velocity","i":1070,"v":7.7e-12},{"s":"z-velocity","i":1080,"v":8.6e-12},{"s":"z-velocity","i":1090,"v":7.5e-12},{"s":"z-velocity","i":1100,"v":8.4e-12},{"s":"z-velocity","i":1110,"v":7.6e-12},{"s":"z-velocity","i":1120,"v":8.7e-12},{"s":"z-velocity","i":1130,"v":7.9e-12},{"s":"z-velocity","i":1140,"v":8.7e-12},{"s":"z-velocity","i":1150,"v":7.7e-12},{"s":"z-velocity","i":1160,"v":8.6e-12},{"s":"z-velocity","i":1170,"v":7.5e-12},{"s":"z-velocity","i":1180,"v":8.4e-12},{"s":"z-velocity","i":1190,"v":7.6e-12},{"s":"z-velocity","i":1200,"v":8.7e-12},

        {"s":"energy","i":0,"v":2.6e-7},{"s":"energy","i":1,"v":1.5e-7},{"s":"energy","i":3,"v":6e-8},{"s":"energy","i":8,"v":3.9e-8},{"s":"energy","i":18,"v":2.3e-8},{"s":"energy","i":30,"v":1.36e-8},{"s":"energy","i":40,"v":1.05e-8},{"s":"energy","i":50,"v":8e-9},{"s":"energy","i":60,"v":5.6e-9},{"s":"energy","i":68,"v":4.2e-9},{"s":"energy","i":80,"v":3e-9},{"s":"energy","i":93,"v":2e-9},{"s":"energy","i":106,"v":1.32e-9},{"s":"energy","i":118,"v":9.5e-10},{"s":"energy","i":130,"v":6.6e-10},{"s":"energy","i":143,"v":4.1e-10},{"s":"energy","i":155,"v":2.9e-10},{"s":"energy","i":168,"v":1.95e-10},{"s":"energy","i":181,"v":1.28e-10},{"s":"energy","i":193,"v":9e-11},{"s":"energy","i":206,"v":6.3e-11},{"s":"energy","i":218,"v":4.48e-11},{"s":"energy","i":231,"v":3.4e-11},{"s":"energy","i":243,"v":2.6e-11},{"s":"energy","i":256,"v":1.99e-11},{"s":"energy","i":275,"v":1.45e-11},{"s":"energy","i":293,"v":1.1e-11},{"s":"energy","i":312,"v":9.2e-12},{"s":"energy","i":331,"v":7.8e-12},{"s":"energy","i":350,"v":6.9e-12},{"s":"energy","i":368,"v":6.2e-12},{"s":"energy","i":393,"v":5.4e-12},{"s":"energy","i":418,"v":4.8e-12},{"s":"energy","i":443,"v":4.35e-12},{"s":"energy","i":468,"v":4.05e-12},{"s":"energy","i":493,"v":3.85e-12},{"s":"energy","i":518,"v":3.7e-12},{"s":"energy","i":555,"v":3.55e-12},{"s":"energy","i":593,"v":3.46e-12},
        {"s":"energy","i":600,"v":3.97e-12},{"s":"energy","i":610,"v":3.21e-12},{"s":"energy","i":620,"v":3.97e-12},{"s":"energy","i":630,"v":3.14e-12},{"s":"energy","i":640,"v":3.86e-12},{"s":"energy","i":650,"v":3e-12},{"s":"energy","i":660,"v":3.76e-12},{"s":"energy","i":670,"v":3.04e-12},{"s":"energy","i":680,"v":3.97e-12},{"s":"energy","i":690,"v":3.21e-12},{"s":"energy","i":700,"v":3.97e-12},{"s":"energy","i":710,"v":3.14e-12},{"s":"energy","i":720,"v":3.86e-12},{"s":"energy","i":730,"v":3e-12},{"s":"energy","i":740,"v":3.76e-12},{"s":"energy","i":750,"v":2.9e-12},{"s":"energy","i":760,"v":3.8e-12},{"s":"energy","i":770,"v":3.07e-12},{"s":"energy","i":780,"v":3.8e-12},{"s":"energy","i":790,"v":3e-12},{"s":"energy","i":800,"v":3.7e-12},{"s":"energy","i":810,"v":2.87e-12},{"s":"energy","i":820,"v":3.6e-12},{"s":"energy","i":830,"v":2.9e-12},{"s":"energy","i":840,"v":3.8e-12},{"s":"energy","i":850,"v":3.07e-12},{"s":"energy","i":860,"v":3.8e-12},{"s":"energy","i":870,"v":3e-12},{"s":"energy","i":880,"v":3.7e-12},{"s":"energy","i":890,"v":2.87e-12},{"s":"energy","i":900,"v":3.6e-12},
        {"s":"energy","i":910,"v":3.21e-12},{"s":"energy","i":920,"v":3.97e-12},{"s":"energy","i":930,"v":3.14e-12},{"s":"energy","i":940,"v":3.86e-12},{"s":"energy","i":950,"v":3e-12},{"s":"energy","i":960,"v":3.76e-12},{"s":"energy","i":970,"v":3.04e-12},{"s":"energy","i":980,"v":3.97e-12},{"s":"energy","i":990,"v":3.21e-12},{"s":"energy","i":1000,"v":3.97e-12},{"s":"energy","i":1010,"v":3.14e-12},{"s":"energy","i":1020,"v":3.86e-12},{"s":"energy","i":1030,"v":3e-12},{"s":"energy","i":1040,"v":3.76e-12},{"s":"energy","i":1050,"v":2.9e-12},{"s":"energy","i":1060,"v":3.8e-12},{"s":"energy","i":1070,"v":3.07e-12},{"s":"energy","i":1080,"v":3.8e-12},{"s":"energy","i":1090,"v":3e-12},{"s":"energy","i":1100,"v":3.7e-12},{"s":"energy","i":1110,"v":2.87e-12},{"s":"energy","i":1120,"v":3.6e-12},{"s":"energy","i":1130,"v":2.9e-12},{"s":"energy","i":1140,"v":3.8e-12},{"s":"energy","i":1150,"v":3.07e-12},{"s":"energy","i":1160,"v":3.8e-12},{"s":"energy","i":1170,"v":3e-12},{"s":"energy","i":1180,"v":3.7e-12},{"s":"energy","i":1190,"v":2.87e-12},{"s":"energy","i":1200,"v":3.6e-12},

        {"s":"k","i":0,"v":0.25},{"s":"k","i":3,"v":0.16},{"s":"k","i":8,"v":0.13},{"s":"k","i":15,"v":0.125},{"s":"k","i":25,"v":0.12},{"s":"k","i":38,"v":0.115},{"s":"k","i":50,"v":0.105},{"s":"k","i":57,"v":0.092},{"s":"k","i":62,"v":0.085},{"s":"k","i":67,"v":0.092},{"s":"k","i":72,"v":0.11},{"s":"k","i":78,"v":0.13},{"s":"k","i":90,"v":0.125},{"s":"k","i":106,"v":0.115},{"s":"k","i":125,"v":0.11},{"s":"k","i":143,"v":0.104},{"s":"k","i":162,"v":0.097},{"s":"k","i":181,"v":0.09},{"s":"k","i":200,"v":0.086},{"s":"k","i":218,"v":0.082},{"s":"k","i":237,"v":0.079},{"s":"k","i":256,"v":0.077},{"s":"k","i":275,"v":0.075},{"s":"k","i":293,"v":0.074},{"s":"k","i":312,"v":0.072},{"s":"k","i":331,"v":0.071},{"s":"k","i":350,"v":0.07},{"s":"k","i":368,"v":0.069},{"s":"k","i":387,"v":0.068},{"s":"k","i":406,"v":0.067},{"s":"k","i":425,"v":0.066},{"s":"k","i":443,"v":0.065},{"s":"k","i":480,"v":0.0645},{"s":"k","i":518,"v":0.064},{"s":"k","i":555,"v":0.063},{"s":"k","i":593,"v":0.062},{"s":"k","i":650,"v":0.062},{"s":"k","i":700,"v":0.0615},{"s":"k","i":750,"v":0.061},{"s":"k","i":800,"v":0.061},{"s":"k","i":850,"v":0.0605},{"s":"k","i":900,"v":0.061},{"s":"k","i":950,"v":0.0605},{"s":"k","i":1000,"v":0.061},{"s":"k","i":1050,"v":0.06},{"s":"k","i":1100,"v":0.0605},{"s":"k","i":1150,"v":0.06},{"s":"k","i":1200,"v":0.06},

        {"s":"epsilon","i":0,"v":0.7},{"s":"epsilon","i":2,"v":0.45},{"s":"epsilon","i":5,"v":0.3},{"s":"epsilon","i":8,"v":0.25},{"s":"epsilon","i":11,"v":0.2},{"s":"epsilon","i":15,"v":0.13},{"s":"epsilon","i":19,"v":0.06},{"s":"epsilon","i":23,"v":0.028},{"s":"epsilon","i":30,"v":0.016},{"s":"epsilon","i":40,"v":0.0092},{"s":"epsilon","i":48,"v":0.0068},{"s":"epsilon","i":54,"v":0.0056},{"s":"epsilon","i":58,"v":0.0068},{"s":"epsilon","i":62,"v":0.0095},{"s":"epsilon","i":68,"v":0.0129},{"s":"epsilon","i":75,"v":0.0145},{"s":"epsilon","i":90,"v":0.0142},{"s":"epsilon","i":110,"v":0.0135},{"s":"epsilon","i":150,"v":0.0122},{"s":"epsilon","i":200,"v":0.0114},{"s":"epsilon","i":250,"v":0.011},{"s":"epsilon","i":300,"v":0.0108},{"s":"epsilon","i":400,"v":0.0107},{"s":"epsilon","i":500,"v":0.0106},{"s":"epsilon","i":700,"v":0.0106},{"s":"epsilon","i":900,"v":0.0106},{"s":"epsilon","i":1200,"v":0.0106}
      ]},
      "mark": {"type": "line", "strokeWidth": 3, "interpolate": "linear"},
      "encoding": {
        "x": {
          "field": "i", "type": "quantitative",
          "scale": {"domain": [0, 1200], "nice": false},
          "axis": {
            "values": [0, 100, 200, 300, 400, 500, 600, 700, 800, 900, 1000, 1100, 1200],
            "labelExpr": "datum.value % 200 == 0 ? '' + datum.value : ''",
            "title": "Iterations",
            "titleFont": "Liberation Mono", "titleFontSize": 21, "titleFontWeight": "normal", "titleColor": "black", "titlePadding": 14,
            "labelFont": "Liberation Mono", "labelFontSize": 14, "labelColor": "black", "labelPadding": 9,
            "labelFlush": false, "labelOverlap": false,
            "tickSize": {"condition": {"test": "datum.value % 200 == 0", "value": 7}, "value": 4},
            "tickColor": "black", "tickWidth": 1.5, "domainColor": "black", "domainWidth": 1.5, "grid": false
          }
        },
        "y": {
          "field": "v", "type": "quantitative",
          "scale": {"type": "log", "domain": [1e-12, 1], "nice": false},
          "axis": {
            "values": [1, 0.8, 0.65, 0.5, 0.25, 0.01, 0.008, 0.0065, 0.005, 0.0025, 1e-4, 8e-5, 6.5e-5, 5e-5, 2.5e-5, 1e-6, 8e-7, 6.5e-7, 5e-7, 2.5e-7, 1e-8, 8e-9, 6.5e-9, 5e-9, 2.5e-9, 1e-10, 8e-11, 6.5e-11, 5e-11, 2.5e-11, 1e-12],
            "labelExpr": "abs(log(datum.value)/LN10 - round(log(datum.value)/LN10)) > 0.001 ? '' : '1e' + (datum.value > 0.5 ? '+' : '-') + (abs(round(log(datum.value)/LN10)) < 10 ? '0' : '') + abs(round(log(datum.value)/LN10))",
            "title": null,
            "labelFont": "Liberation Mono", "labelFontSize": 14, "labelColor": "black", "labelPadding": 12,
            "labelFlush": false, "labelOverlap": false,
            "tickSize": {"condition": {"test": "abs(log(datum.value)/LN10 - round(log(datum.value)/LN10)) < 0.001", "value": 11}, "value": 6},
            "tickColor": "black", "tickWidth": 1.5, "domainColor": "black", "domainWidth": 1.5, "grid": false
          }
        },
        "color": {
          "field": "s", "type": "nominal",
          "scale": {
            "domain": ["continuity", "x-velocity", "y-velocity", "z-velocity", "energy", "k", "epsilon"],
            "range": ["#000000", "#ff2800", "#00e400", "#1e3cff", "#00f0ff", "#ff3399", "#ffff00"]
          },
          "legend": {
            "title": "Residuals", "orient": "none", "legendX": -264, "legendY": -58,
            "strokeColor": "black", "fillColor": "white", "padding": 2,
            "titleFont": "Liberation Mono", "titleFontSize": 16, "titleFontWeight": "normal", "titleColor": "black", "titleAnchor": "middle", "titlePadding": 3,
            "labelFont": "Liberation Mono", "labelFontSize": 16, "labelColor": "black", "labelOffset": 9,
            "rowPadding": 2.8,
            "symbolType": "M-3,0H3M25.4,0", "symbolSize": 100, "symbolStrokeWidth": 3, "symbolOffset": 6
          }
        }
      }
    },
    {
      "data": {"values": [{"case": "Medium grid, α=1.0°"}]},
      "mark": {"type": "point", "size": 0, "color": "black", "filled": false, "opacity": 1},
      "encoding": {
        "shape": {
          "field": "case", "type": "nominal",
          "scale": {"range": ["M-6.463,-1H6.463V1H-6.463Z"]},
          "legend": {
            "title": null, "orient": "none", "legendX": 76, "legendY": -102, "padding": 0,
            "symbolSize": 4489, "symbolStrokeWidth": 2, "symbolStrokeColor": "black", "symbolFillColor": "transparent",
            "symbolOffset": 182, "labelOffset": -204,
            "labelFont": "DejaVu Sans", "labelFontSize": 31, "labelColor": "black", "labelLimit": 0
          }
        }
      }
    }
  ]
}
